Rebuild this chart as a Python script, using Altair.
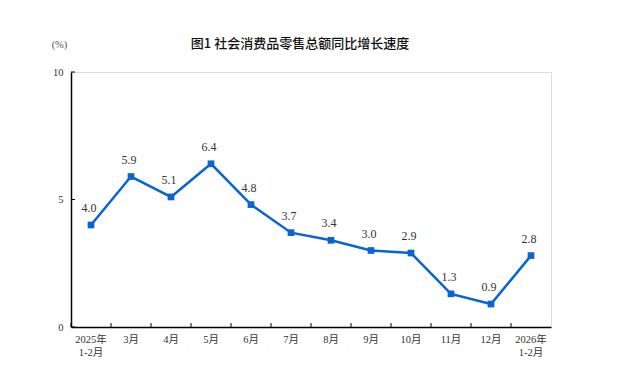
import altair as alt
import pandas as pd

months = ["2025年\n1-2月", "3月", "4月", "5月", "6月", "7月", "8月", "9月", "10月", "11月", "12月", "2026年\n1-2月"]
growth = [4.0, 5.9, 5.1, 6.4, 4.8, 3.7, 3.4, 3.0, 2.9, 1.3, 0.9, 2.8]
y_ticks = [0, 5, 10]
title_text = "图1  社会消费品零售总额同比增长速度"

df = pd.DataFrame({"month": months, "growth": growth})
df["label"] = [f"{v:.1f}" for v in growth]
tick_df = pd.DataFrame({"v": y_ticks})

W, H = 480, 255
BLUE = "#0b64d4"
SERIF = "Liberation Serif, Noto Sans CJK SC"

x_enc = alt.X("month:N", sort=months, scale=alt.Scale(paddingInner=0, paddingOuter=0),
              axis=alt.Axis(title=None, labelAngle=0, ticks=False, tickSize=0, domain=True,
                            domainColor="#000", domainWidth=1.5, labelPadding=7,
                            labelExpr="split(datum.label, '\\n')", labelFont=SERIF,
                            labelFontSize=10.5, labelColor="#333", labelLineHeight=13))
y_enc = alt.Y("growth:Q", scale=alt.Scale(domain=[0, 10]),
              axis=alt.Axis(values=y_ticks, title="(%)", titleAngle=0, titleX=-12, titleY=-28,
                            titleAlign="center", titleBaseline="middle", titleFont=SERIF,
                            titleFontSize=10.5, titleFontWeight="normal", titleColor="#555",
                            ticks=False, tickSize=0, labelPadding=8, domainColor="#000",
                            domainWidth=1.5, labelFont=SERIF, labelFontSize=10.5,
                            labelColor="#333", grid=False))

base = alt.Chart(df).encode(x=x_enc, y=y_enc)

line = base.mark_line(color=BLUE, strokeWidth=2.5)
points = base.mark_square(color=BLUE, size=45, opacity=1)
labels = base.mark_text(dy=-17, dx=-2, font=SERIF, fontSize=12, color="#333").encode(text="label:N")

ytick_marks = alt.Chart(tick_df).mark_rule(color="#000", strokeWidth=1).encode(
    y=alt.Y("v:Q"), x=alt.value(0), x2=alt.value(4))
xtick_marks = alt.Chart(df).mark_rule(color="#000", strokeWidth=1).encode(
    x=alt.X("month:N", sort=months, bandPosition=0), y=alt.value(H - 4), y2=alt.value(H))

title_mark = alt.Chart(pd.DataFrame({"t": [title_text]})).mark_text(
    font="Noto Sans CJK SC", fontSize=13, fontWeight=500, color="#111",
    align="center", baseline="middle").encode(
    text="t:N", x=alt.value(229), y=alt.value(-28))

chart = alt.layer(line, points, labels, ytick_marks, xtick_marks, title_mark).properties(
    width=W, height=H,
    autosize=alt.AutoSizeParams(type="none"),
    padding={"left": 63, "top": 64, "right": 61, "bottom": 50},
).configure_view(stroke="#999", strokeWidth=1).configure(background="white")

chart.save("out.html", embed_options={"renderer": "svg", "actions": False})
